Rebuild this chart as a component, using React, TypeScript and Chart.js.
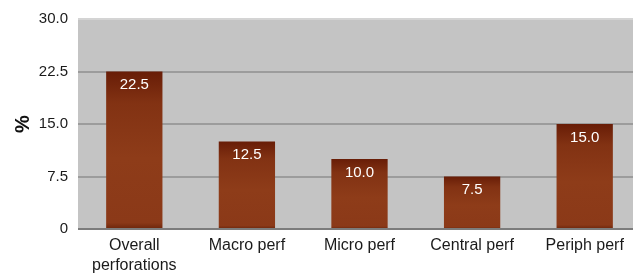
import React, { useEffect, useRef } from "react";
import { Chart, registerables } from "chart.js";

Chart.register(...registerables);

const categories: (string | string[])[] = [
  ["Overall", "perforations"],
  "Macro perf",
  "Micro perf",
  "Central perf",
  "Periph perf",
];
const values: number[] = [22.5, 12.5, 10.0, 7.5, 15.0];
const yTicks: number[] = [0, 7.5, 15, 22.5, 30];
const yTickLabels: string[] = ["0", "7.5", "15.0", "22.5", "30.0"];

const FONT = "'Liberation Sans', Arial, sans-serif";

export default function App() {
  const ref = useRef<HTMLCanvasElement | null>(null);

  useEffect(() => {
    document.body.style.margin = "0";
    document.body.style.overflow = "hidden";
    if (!ref.current) return;
    const bgPlugin = {
      id: "plotBg",
      beforeDraw(chart: any) {
        const { ctx, chartArea: a } = chart;
        ctx.save();
        ctx.fillStyle = "#c4c4c4";
        ctx.fillRect(a.left, a.top, a.right - a.left, a.bottom - a.top);
        ctx.restore();
      },
    };
    const labelPlugin = {
      id: "valueLabels",
      afterDatasetsDraw(chart: any) {
        const { ctx } = chart;
        const meta = chart.getDatasetMeta(0);
        ctx.save();
        ctx.fillStyle = "#ffffff";
        ctx.font = `15px ${FONT}`;
        ctx.textAlign = "center";
        ctx.textBaseline = "middle";
        meta.data.forEach((el: any, i: number) => {
          ctx.fillText(values[i].toFixed(1), el.x, el.y + 13.5);
        });
        ctx.restore();
      },
    };
    const chart = new Chart(ref.current, {
      type: "bar",
      data: {
        labels: categories,
        datasets: [
          {
            data: values,
            backgroundColor: (c: any) => {
              const y = c.chart.scales && c.chart.scales.y;
              if (!y || c.raw == null) return "#8a3816";
              const top = y.getPixelForValue(c.raw);
              const bottom = y.getPixelForValue(0);
              if (!isFinite(top) || !isFinite(bottom) || bottom - top < 2) return "#8a3816";
              const g = c.chart.ctx.createLinearGradient(0, top, 0, bottom);
              g.addColorStop(0, "#681d07");
              g.addColorStop(0.2, "#823213");
              g.addColorStop(0.55, "#8e3c19");
              g.addColorStop(0.96, "#8b3918");
              g.addColorStop(1, "#6c250b");
              return g;
            },
            borderWidth: 0,
            barPercentage: 0.5,
            categoryPercentage: 1.0,
          },
        ],
      },
      options: {
        animation: false,
        responsive: false,
        maintainAspectRatio: false,
        layout: { padding: { top: 17, right: 0, left: 0, bottom: 0 } },
        plugins: {
          legend: { display: false },
          tooltip: { enabled: false },
        },
        scales: {
          x: {
            grid: { display: false, drawTicks: false },
            border: { display: false },
            ticks: {
              color: "#1a1a1a",
              font: { family: FONT, size: 16, lineHeight: 1.25 },
              padding: 7,
              maxRotation: 0,
              autoSkip: false,
            },
            afterFit: (s: any) => {
              s.height = 44;
            },
          },
          y: {
            min: 0,
            max: 30,
            afterBuildTicks: (s: any) => {
              s.ticks = yTicks.map((v) => ({ value: v }));
            },
            afterFit: (s: any) => {
              s.width = 78;
            },
            grid: {
              drawTicks: false,
              color: (c: any) =>
                c.tick.value === 30 ? "#d4d4d4" : c.tick.value === 0 ? "#7c7c7c" : "#9c9c9c",
              lineWidth: 2,
            },
            border: { display: false },
            ticks: {
              color: "#1a1a1a",
              font: { family: FONT, size: 15 },
              padding: 10,
              callback: (v: any) => {
                const i = yTicks.indexOf(Number(v));
                return i >= 0 ? yTickLabels[i] : "";
              },
            },
            title: {
              display: true,
              text: "%",
              color: "#111",
              font: { family: FONT, size: 20, weight: "bold" },
              padding: { top: 11, bottom: 0 },
            },
          },
        },
      },
      plugins: [bgPlugin, labelPlugin],
    });
    return () => chart.destroy();
  }, []);

  return (
    <div
      style={{
        position: "relative",
        width: 633,
        height: 273,
        overflow: "hidden",
        background: "#fff",
      }}
    >
      <canvas
        ref={ref}
        width={641}
        height={273}
        style={{ position: "absolute", left: 0, top: 0, width: 641, height: 273 }}
      />
    </div>
  );
}
